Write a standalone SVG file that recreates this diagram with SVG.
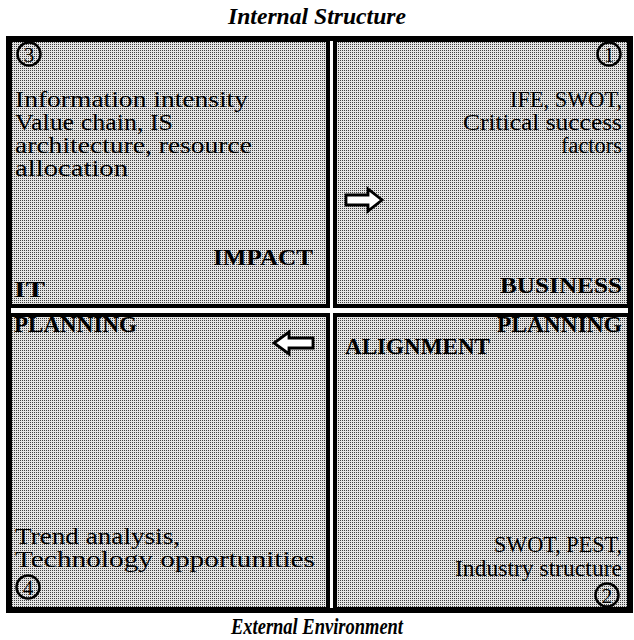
<svg xmlns="http://www.w3.org/2000/svg" width="634" height="640" viewBox="0 0 634 640">
<style>
.t{font-family:"Liberation Serif","Times New Roman",serif;font-size:23px;fill:#000}
.b{font-family:"Liberation Serif","Times New Roman",serif;font-size:23px;font-weight:bold;fill:#000}
.h{font-family:"Liberation Serif","Times New Roman",serif;font-size:23px;font-weight:bold;font-style:italic;fill:#000}
.d{font-family:"Liberation Serif","Times New Roman",serif;font-size:21px;fill:#000;text-anchor:middle}
.c{fill:none;stroke:#000;stroke-width:2.5}
.q{fill:url(#dots);stroke:#000;stroke-width:4}
.ar{fill:#fff;stroke:#000;stroke-width:2.8;stroke-linejoin:miter}
</style>
<defs>
<pattern id="dots" x="0" y="0" width="2" height="2" patternUnits="userSpaceOnUse">
<rect width="2" height="2" fill="#e4e4e4"/>
<rect width="1" height="1" fill="#404040"/>
</pattern>
</defs>
<rect width="634" height="640" fill="#fff"/>
<text class="h" x="317" y="24" text-anchor="middle" textLength="178" lengthAdjust="spacingAndGlyphs">Internal Structure</text>
<g id="q3">
<rect class="q" x="10" y="40" width="318" height="266"/>
<circle class="c" cx="29" cy="54" r="11.5"/>
<text class="d" x="29" y="61.5">3</text>
<text class="t" x="15" y="107" textLength="233" lengthAdjust="spacingAndGlyphs">Information intensity</text>
<text class="t" x="15" y="130" textLength="158" lengthAdjust="spacingAndGlyphs">Value chain, IS</text>
<text class="t" x="15" y="153" textLength="237" lengthAdjust="spacingAndGlyphs">architecture, resource</text>
<text class="t" x="15" y="176" textLength="113" lengthAdjust="spacingAndGlyphs">allocation</text>
<text class="b" x="313" y="265" text-anchor="end" textLength="100" lengthAdjust="spacingAndGlyphs">IMPACT</text>
<text class="b" x="14" y="297" textLength="31" lengthAdjust="spacingAndGlyphs">IT</text>
</g>
<g id="q1">
<rect class="q" x="335" y="40" width="294" height="266"/>
<circle class="c" cx="609" cy="54" r="11.5"/>
<text class="d" x="609" y="61.5">1</text>
<text class="t" x="622" y="107" text-anchor="end" textLength="112" lengthAdjust="spacingAndGlyphs">IFE, SWOT,</text>
<text class="t" x="622" y="130" text-anchor="end" textLength="159" lengthAdjust="spacingAndGlyphs">Critical success</text>
<text class="t" x="622" y="153" text-anchor="end" textLength="61" lengthAdjust="spacingAndGlyphs">factors</text>
<text class="b" x="622" y="293" text-anchor="end" textLength="122" lengthAdjust="spacingAndGlyphs">BUSINESS</text>
</g>
<g id="q4">
<rect class="q" x="10" y="315" width="318" height="294"/>
<text class="b" x="14" y="332" textLength="123" lengthAdjust="spacingAndGlyphs">PLANNING</text>
<text class="t" x="15" y="544" textLength="165" lengthAdjust="spacingAndGlyphs">Trend analysis,</text>
<text class="t" x="15" y="567" textLength="300" lengthAdjust="spacingAndGlyphs">Technology opportunities</text>
<circle class="c" cx="28" cy="587" r="11.5"/>
<text class="d" x="28" y="594.5">4</text>
</g>
<g id="q2">
<rect class="q" x="335" y="315" width="294" height="294"/>
<text class="b" x="622" y="332" text-anchor="end" textLength="125" lengthAdjust="spacingAndGlyphs">PLANNING</text>
<text class="b" x="345" y="354" textLength="145" lengthAdjust="spacingAndGlyphs">ALIGNMENT</text>
<text class="t" x="622" y="552" text-anchor="end" textLength="128" lengthAdjust="spacingAndGlyphs">SWOT, PEST,</text>
<text class="t" x="622" y="576" text-anchor="end" textLength="167" lengthAdjust="spacingAndGlyphs">Industry structure</text>
<circle class="c" cx="607" cy="595" r="11.5"/>
<text class="d" x="607" y="602.5">2</text>
</g>
<rect x="8.5" y="38.5" width="622" height="572" fill="none" stroke="#000" stroke-width="5"/>
<g id="connectors">
<path class="ar" d="M346,195 L368,195 L368,189 L382,200 L368,211 L368,205 L346,205 Z"/>
<path class="ar" d="M313,338 L289,338 L289,332 L274,343 L289,354 L289,348 L313,348 Z"/>
</g>
<text class="h" x="317" y="634" text-anchor="middle" textLength="172" lengthAdjust="spacingAndGlyphs">External Environment</text>
</svg>
